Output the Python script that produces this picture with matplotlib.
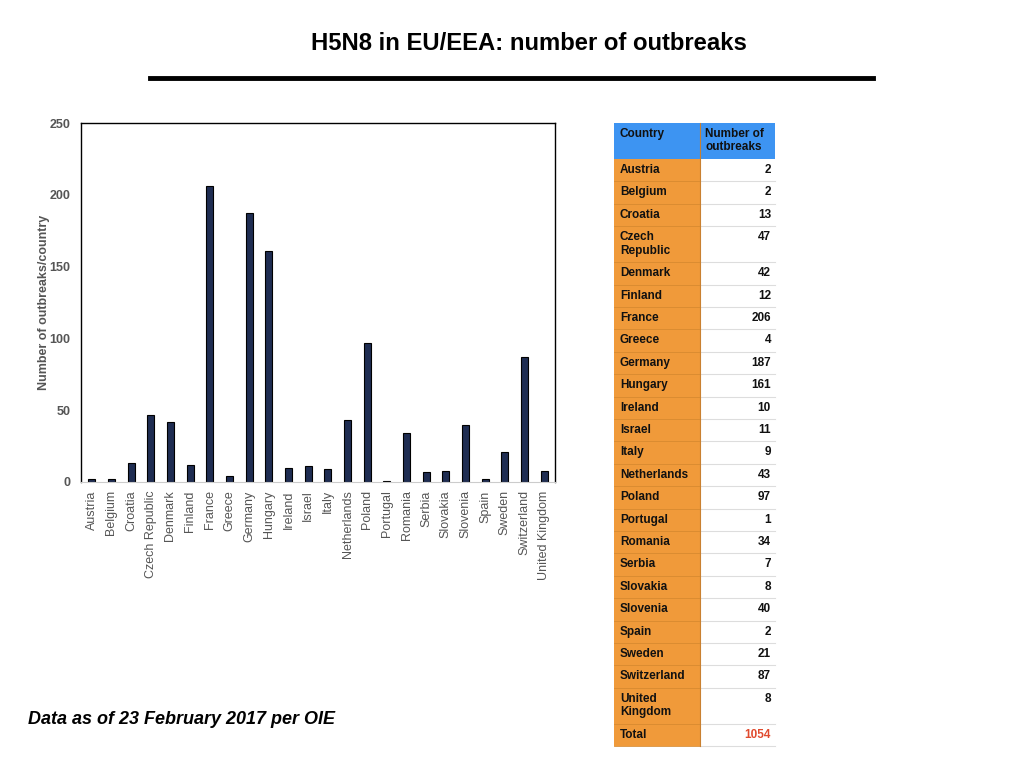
import matplotlib.pyplot as plt
from matplotlib.patches import Rectangle

plt.rcParams['font.family'] = ['Liberation Sans', 'DejaVu Sans']

countries = ['Austria', 'Belgium', 'Croatia', 'Czech Republic', 'Denmark', 'Finland',
             'France', 'Greece', 'Germany', 'Hungary', 'Ireland', 'Israel', 'Italy',
             'Netherlands', 'Poland', 'Portugal', 'Romania', 'Serbia', 'Slovakia',
             'Slovenia', 'Spain', 'Sweden', 'Switzerland', 'United Kingdom']
outbreaks = [2, 2, 13, 47, 42, 12, 206, 4, 187, 161, 10, 11, 9, 43, 97, 1, 34, 7, 8,
             40, 2, 21, 87, 8]
table_names = ['Austria', 'Belgium', 'Croatia', 'Czech\nRepublic', 'Denmark', 'Finland',
               'France', 'Greece', 'Germany', 'Hungary', 'Ireland', 'Israel', 'Italy',
               'Netherlands', 'Poland', 'Portugal', 'Romania', 'Serbia', 'Slovakia',
               'Slovenia', 'Spain', 'Sweden', 'Switzerland', 'United\nKingdom']
total = 1054

W, H = 1024, 768
fig = plt.figure(figsize=(W / 100, H / 100), dpi=100)

# title and rule
fig.text(529 / W, 1 - 44 / H, 'H5N8 in EU/EEA: number of outbreaks', ha='center', va='center',
         fontsize=17.2, fontweight='bold')
fig.add_artist(plt.Line2D([150 / W, 873 / W], [1 - 78 / H, 1 - 78 / H], color='black', lw=3.5))

# bar chart
ax = fig.add_axes([81 / W, 1 - 482 / H, (555 - 81) / W, (482 - 123) / H])
x = range(len(countries))
ax.bar(x, outbreaks, width=0.35, color='#1f2d52', edgecolor='black', linewidth=0.8)
ax.set_xlim(-0.55, len(countries) - 0.45)
ax.set_ylim(0, 250)
ax.set_yticks([0, 50, 100, 150, 200, 250])
ax.set_xticks(list(x))
ax.set_xticklabels(countries, rotation=90, fontsize=9, color='#555555')
ax.tick_params(axis='both', length=0, pad=6)
ax.tick_params(axis='y', pad=7.5)
for lbl in ax.get_yticklabels():
    lbl.set_fontweight('bold')
    lbl.set_color('#555555')
    lbl.set_fontsize(9)
ax.spines['bottom'].set_color('#cccccc')
for s in ['left', 'top', 'right']:
    ax.spines[s].set_linewidth(1.0)
ax.set_ylabel('Number of outbreaks/country', fontsize=9, fontweight='bold', color='#555555',
              labelpad=0)

# table
x0, x1, x2 = 614, 700, 775
orange = '#f09a3a'
blue = '#3d94f2'


def rect(xa, ya, w, h, color):
    fig.add_artist(Rectangle((xa / W, 1 - (ya + h) / H), w / W, h / H, transform=fig.transFigure,
                             facecolor=color, edgecolor='none'))


rect(x0, 123, x2 - x0, 36, blue)
fig.text((x0 + 6) / W, 1 - 128 / H, 'Country', fontsize=8.5, fontweight='bold', va='top',
         color='#111111')
fig.text((x1 + 5) / W, 1 - 128 / H, 'Number of\noutbreaks', fontsize=8.5, fontweight='bold',
         va='top', color='#111111', linespacing=1.15)

y = 159
rows = list(zip(table_names, outbreaks)) + [('Total', total)]
for name, val in rows:
    h = 36 if '\n' in name else 22.4
    rect(x0, y, x1 - x0, h, orange)
    rect(x1, y, x2 - x1, h, 'white')
    fig.add_artist(plt.Line2D([x1 / W, x2 / W], [1 - (y + h) / H] * 2, color='#dddddd', lw=0.8))
    fig.add_artist(plt.Line2D([x0 / W, x1 / W], [1 - (y + h) / H] * 2, color='#d88a30', lw=0.6))
    fig.text((x0 + 6) / W, 1 - (y + 5) / H, name, fontsize=8.5, fontweight='bold', va='top',
             color='#111111', linespacing=1.15)
    fig.text((x2 - 4) / W, 1 - (y + 5) / H, str(val), fontsize=8.5, fontweight='bold', va='top',
             ha='right', color='#e04a2e' if name == 'Total' else '#111111')
    y += h
fig.add_artist(plt.Line2D([x1 / W, x1 / W], [1 - 123 / H, 1 - y / H], color='#c98030', lw=0.8))

fig.text(28 / W, 1 - 720 / H, 'Data as of 23 February 2017 per OIE', fontsize=13,
         fontweight='bold', fontstyle='italic', va='center')

fig.savefig('out.png', dpi=100)
